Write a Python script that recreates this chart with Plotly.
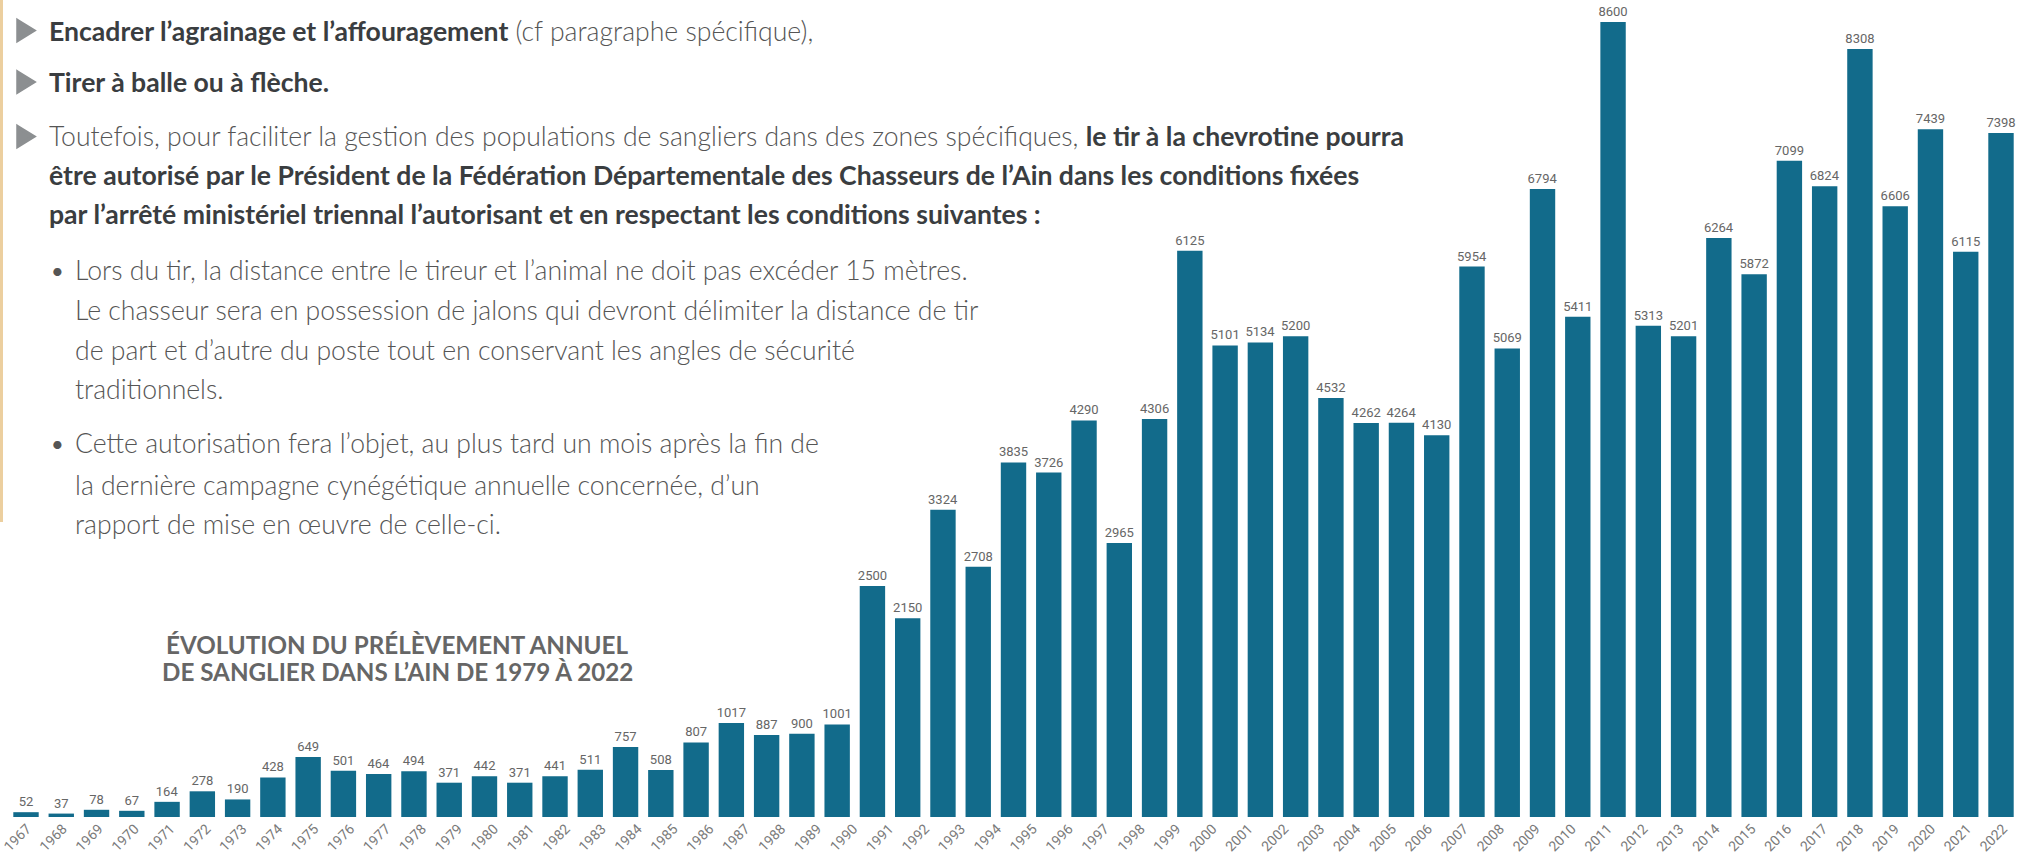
import plotly.graph_objects as go

# ---------------- data ----------------
tick_years = list(range(1967, 2023))  # 56 axis labels printed under the bars
values = [52, 37, 78, 67, 164, 278, 190, 428, 649, 501, 464, 494, 371, 442, 371, 441,
          511, 757, 508, 807, 1017, 887, 900, 1001, 2500, 2150, 3324, 2708, 3835, 3726,
          4290, 2965, 4306, 6125, 5101, 5134, 5200, 4532, 4262, 4264, 4130, 5954, 5069,
          6794, 5411, 8600, 5313, 5201, 6264, 5872, 7099, 6824, 8308, 6606, 7439, 6115,
          7398]  # 57 bars drawn in the picture
bar_index = list(range(len(values)))

title_lines = ["ÉVOLUTION DU PRÉLÈVEMENT ANNUEL", "DE SANGLIER DANS L’AIN DE 1979 À 2022"]

BOLD_COLOR = "#3a3d40"
main_lines = [
    "<span style='color:%s'><b>Encadrer l’agrainage et l’affouragement</b></span> (cf paragraphe spécifique)," % BOLD_COLOR,
    "<span style='color:%s'><b>Tirer à balle ou à flèche.</b></span>" % BOLD_COLOR,
    "Toutefois, pour faciliter la gestion des populations de sangliers dans des zones spécifiques, <span style='color:%s'><b>le tir à la chevrotine pourra</b></span>" % BOLD_COLOR,
    "<span style='color:%s'><b>être autorisé par le Président de la Fédération Départementale des Chasseurs de l’Ain dans les conditions fixées</b></span>" % BOLD_COLOR,
    "<span style='color:%s'><b>par l’arrêté ministériel triennal l’autorisant et en respectant les conditions suivantes :</b></span>" % BOLD_COLOR,
]
bullet1 = [
    "Lors du tir, la distance entre le tireur et l’animal ne doit pas excéder 15 mètres.",
    "Le chasseur sera en possession de jalons qui devront délimiter la distance de tir",
    "de part et d’autre du poste tout en conservant les angles de sécurité",
    "traditionnels.",
]
bullet2 = [
    "Cette autorisation fera l’objet, au plus tard un mois après la fin de",
    "la dernière campagne cynégétique annuelle concernée, d’un",
    "rapport de mise en œuvre de celle-ci.",
]

# ---------------- layout geometry (pixels) ----------------
W, H = 2029, 852
ML, MR, MT, MB = 0, 0, 0, 35
PW, PH = W - ML - MR, H - MT - MB

def px(x):
    return (x - ML) / PW

def py(y):
    return (H - MB - y) / PH

BAR_COLOR = "#126b8b"
BODY_SIZE = 26.6

fig = go.Figure()
fig.add_trace(go.Bar(
    x=bar_index, y=values, marker_color=BAR_COLOR, marker_line_width=0,
    text=[str(v) for v in values], textposition="outside", cliponaxis=False,
    constraintext="none",
    textfont=dict(family="Roboto", size=13, color="#666666"),
    hoverinfo="skip", xaxis="x", yaxis="y",
))
fig.add_trace(go.Scatter(
    x=tick_years, y=[0] * len(tick_years), mode="markers",
    marker=dict(opacity=0), hoverinfo="skip", xaxis="x2", yaxis="y",
))

annotations = []
main_y = [31, 82, 136, 175, 214]
for t, yy in zip(main_lines, main_y):
    annotations.append(dict(
        text=t, x=px(47), y=py(yy), xref="paper", yref="paper",
        xanchor="left", yanchor="middle", showarrow=False,
        font=dict(family="Lato", size=BODY_SIZE, color="#555555", weight=300),
    ))
b1_y = [270, 310, 350, 389]
b2_y = [443, 485, 524]
for lines, ys in ((bullet1, b1_y), (bullet2, b2_y)):
    annotations.append(dict(
        text="•", x=px(57), y=py(ys[0]), xref="paper", yref="paper",
        xanchor="center", yanchor="middle", showarrow=False,
        font=dict(family="Lato", size=22, color="#555555"),
    ))
    for t, yy in zip(lines, ys):
        annotations.append(dict(
            text=t, x=px(73), y=py(yy), xref="paper", yref="paper",
            xanchor="left", yanchor="middle", showarrow=False,
            font=dict(family="Lato", size=BODY_SIZE, color="#555555", weight=300),
        ))
for t, yy in zip(title_lines, [644, 671]):
    annotations.append(dict(
        text=t, x=px(397), y=py(yy), xref="paper", yref="paper",
        xanchor="center", yanchor="middle", showarrow=False,
        font=dict(family="Lato", size=24.2, color="#666666", weight=700),
    ))

shapes = [dict(type="rect", xref="paper", yref="paper",
               x0=px(0), x1=px(3), y0=py(0), y1=py(522),
               fillcolor="#eccf9f", line_width=0, layer="below")]
for cy in [30.5, 82, 136.5]:
    path = "M {} {} L {} {} L {} {} Z".format(px(18), py(cy - 9.5), px(33.5), py(cy), px(18), py(cy + 9.5))
    shapes.append(dict(type="path", xref="paper", yref="paper", path=path,
                       fillcolor="#8c8f91", line=dict(color="#8c8f91", width=3.5)))

bar_scale = (2001 - 26) / (len(values) - 1)
bar_r0 = -26 / bar_scale
bar_r1 = bar_r0 + PW / bar_scale
lab_scale = (2003 - 27) / (tick_years[-1] - tick_years[0])
lab_r0 = tick_years[0] - 27 / lab_scale
lab_r1 = lab_r0 + PW / lab_scale

fig.update_layout(
    width=W, height=H,
    margin=dict(l=ML, r=MR, t=MT, b=MB, pad=0),
    paper_bgcolor="white", plot_bgcolor="white",
    showlegend=False, bargap=0.28,
    xaxis=dict(range=[bar_r0, bar_r1], showticklabels=False, showgrid=False,
               zeroline=False, showline=False, ticks="", automargin=False, fixedrange=True),
    xaxis2=dict(range=[lab_r0, lab_r1], overlaying="x", anchor="y", side="bottom",
                tickmode="array", tickvals=tick_years, ticktext=[str(y) for y in tick_years],
                tickangle=-45, tickfont=dict(family="Roboto", size=14, color="#7a7a7a"),
                showgrid=False, zeroline=False, showline=False, ticks="", automargin=False),
    yaxis=dict(range=[0, 8838], visible=False, automargin=False),
    annotations=annotations, shapes=shapes,
)

fig.write_html("out.html", config={"displayModeBar": False},
               post_script="document.body.style.margin='0';document.body.style.overflow='hidden';")
